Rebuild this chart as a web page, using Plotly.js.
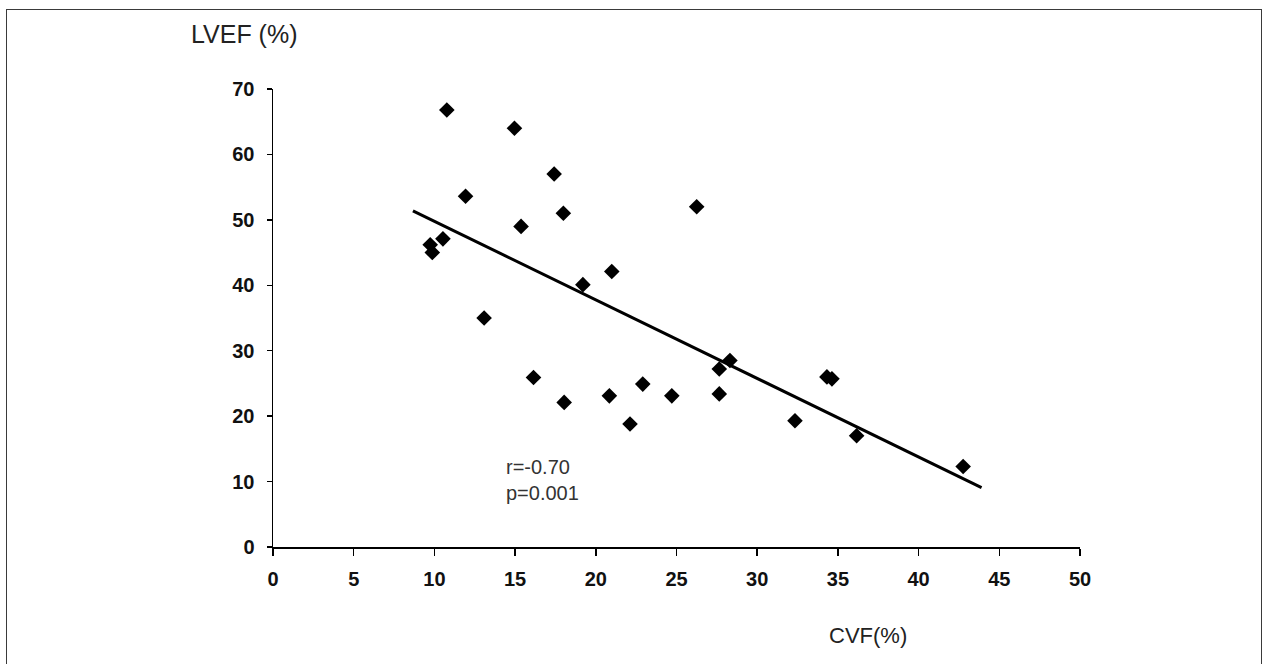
<!DOCTYPE html>
<html>
<head>
<meta charset="utf-8">
<script src="https://cdn.plot.ly/plotly-3.0.1.min.js"></script>
<style>
  html, body { margin: 0; padding: 0; background: #fff; }
  #wrap { position: relative; width: 1264px; height: 664px; overflow: hidden; }
  #chart { position: absolute; left: 0; top: 0; width: 1264px; height: 664px; }
  #frame { position: absolute; left: 6px; top: 9px; width: 1254px; height: 670px; border: 1px solid #3a3a3a; pointer-events: none; }
</style>
</head>
<body>
<div id="wrap">
  <div id="chart"></div>
  <div id="frame"></div>
</div>
<script>
// CVF (%) vs LVEF (%) per patient
const cvf = [10.77, 14.96, 17.42, 11.93, 17.99, 15.37, 10.53, 9.74, 9.87, 20.99,
             26.25, 19.20, 13.08, 16.14, 18.04, 20.84, 22.91, 22.12, 24.71, 27.65,
             27.65, 28.31, 34.32, 34.63, 32.34, 36.16, 42.76];
const lvef = [66.8, 64.0, 57.0, 53.6, 51.0, 49.0, 47.1, 46.2, 45.0, 42.1,
              52.0, 40.1, 35.0, 25.9, 22.1, 23.1, 24.9, 18.8, 23.1, 23.4,
              27.2, 28.5, 26.0, 25.7, 19.3, 17.0, 12.3];
// regression line endpoints
const trendX = [8.67, 43.9];
const trendY = [51.38, 9.07];
const xTicks = [0, 5, 10, 15, 20, 25, 30, 35, 40, 45, 50];
const yTicks = [0, 10, 20, 30, 40, 50, 60, 70];
const statsText = ["r=-0.70", "p=0.001"];

const traces = [
  {
    x: trendX, y: trendY, type: 'scatter', mode: 'lines',
    line: { color: '#000', width: 3 }, hoverinfo: 'skip', showlegend: false
  },
  {
    x: cvf, y: lvef, type: 'scatter', mode: 'markers',
    marker: { symbol: 'diamond', size: 12, color: '#000' }, showlegend: false
  }
];

const tickFont = { family: 'Liberation Sans, Arial, sans-serif', size: 20, color: '#111', weight: 'bold' };

const layout = {
  width: 1264, height: 664,
  margin: { l: 273, r: 184, t: 89, b: 117 },
  paper_bgcolor: '#fff', plot_bgcolor: '#fff',
  showlegend: false,
  xaxis: {
    range: [0, 50], tickvals: xTicks, ticktext: xTicks.map(String),
    showgrid: false, zeroline: false, showline: true, linecolor: '#000', linewidth: 1.5,
    ticks: 'outside', ticklen: 7, tickwidth: 1.5, tickcolor: '#000',
    tickfont: tickFont, ticklabelstandoff: 6, fixedrange: true
  },
  yaxis: {
    range: [0, 70], tickvals: yTicks, ticktext: yTicks.map(String),
    showgrid: false, zeroline: false, showline: true, linecolor: '#000', linewidth: 1.5,
    ticks: 'outside', ticklen: 5, tickwidth: 1.5, tickcolor: '#000',
    tickfont: tickFont, ticklabelstandoff: 8, fixedrange: true
  },
  annotations: [
    {
      text: 'LVEF (%)', xref: 'paper', yref: 'paper', x: -0.035, y: 1.121,
      xanchor: 'center', yanchor: 'middle', showarrow: false,
      font: { family: 'Liberation Sans, Arial, sans-serif', size: 25, color: '#222' }
    },
    {
      text: 'CVF(%)', xref: 'paper', yref: 'paper', x: 0.737, y: -0.194,
      xanchor: 'center', yanchor: 'middle', showarrow: false,
      font: { family: 'Liberation Sans, Arial, sans-serif', size: 22, color: '#222' }
    },
    {
      text: statsText.join('<br>'), xref: 'x', yref: 'y', x: 14.3, y: 10.2,
      xanchor: 'left', yanchor: 'middle', align: 'left', showarrow: false,
      font: { family: 'Liberation Sans, Arial, sans-serif', size: 20, color: '#333' }
    }
  ]
};

Plotly.newPlot('chart', traces, layout, { staticPlot: true, displayModeBar: false });
</script>
</body>
</html>
